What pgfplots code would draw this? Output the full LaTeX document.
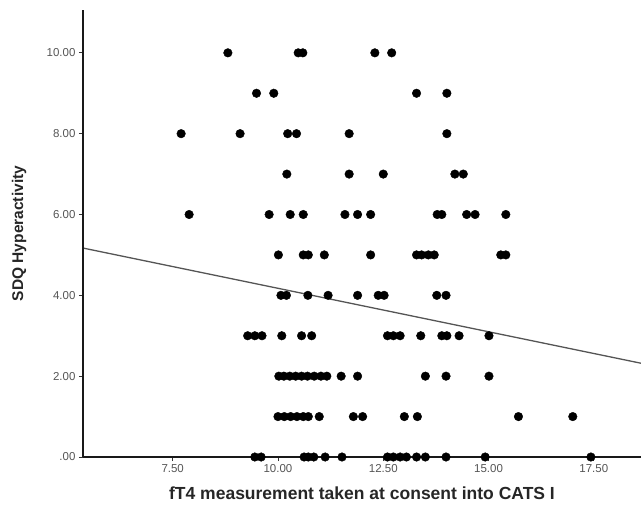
\documentclass[border=0pt]{standalone}
\usepackage{pgfplots}
\pgfplotsset{compat=1.18}
\usepackage{fontspec}
\setmainfont{Liberation Sans}
\usetikzlibrary{calc}
\definecolor{ticktext}{HTML}{555555}
\definecolor{fitline}{HTML}{555555}
\begin{document}
\begin{tikzpicture}
\begin{axis}[
  scale only axis,
  width=558pt, height=447pt,
  xmin=5.37, xmax=18.62, ymin=0, ymax=11.06,
  axis x line*=bottom, axis y line*=left,
  axis line style={-, line width=1.6pt, black!90},
  axis on top=true,
  tick align=outside,
  major tick length=4pt,
  tick style={line width=0.8pt, black!80},
  xtick={7.5,10,12.5,15,17.5},
  xticklabels={7.50,10.00,12.50,15.00,17.50},
  ytick={0,2,4,6,8,10},
  yticklabels={.00,2.00,4.00,6.00,8.00,10.00},
  /pgf/number format/assume math mode=true,
  ticklabel style={font=\fontsize{11.5}{13}\selectfont, text=ticktext},
  xlabel={fT4 measurement taken at consent into CATS I},
  ylabel={SDQ Hyperactivity},
  xlabel style={at={(axis description cs:0.5,-0.0805)}, anchor=center, font=\fontsize{17.5}{20}\selectfont\bfseries, text=black!85},
  ylabel style={at={(axis description cs:-0.1147,0.5)}, anchor=center, font=\fontsize{15.5}{18}\selectfont\bfseries, text=black!85},
]
\addplot[only marks, mark=*, mark size=4.3pt, black] coordinates {
(8.81,10) (10.48,10) (10.59,10) (12.30,10) (12.70,10)
(9.49,9) (9.90,9) (13.29,9) (14.01,9)
(7.70,8) (9.10,8) (10.23,8) (10.44,8) (11.69,8) (14.01,8)
(10.21,7) (11.69,7) (12.50,7) (14.20,7) (14.40,7)
(7.89,6) (9.79,6) (10.29,6) (10.60,6) (11.59,6) (11.89,6) (12.20,6) (13.78,6) (13.89,6) (14.48,6) (14.68,6) (15.41,6)
(10.01,5) (10.60,5) (10.72,5) (11.10,5) (12.20,5) (13.29,5) (13.41,5) (13.57,5) (13.71,5) (15.29,5) (15.41,5)
(10.07,4) (10.20,4) (10.71,4) (11.19,4) (11.89,4) (12.38,4) (12.52,4) (13.77,4) (13.99,4)
(9.28,3) (9.45,3) (9.62,3) (10.09,3) (10.56,3) (10.80,3) (12.60,3) (12.74,3) (12.90,3) (13.39,3) (13.89,3) (14.01,3) (14.30,3) (15.01,3)
(10.02,2) (10.14,2) (10.28,2) (10.42,2) (10.56,2) (10.70,2) (10.86,2) (11.02,2) (11.16,2) (11.50,2) (11.89,2) (13.50,2) (13.99,2) (15.01,2)
(10.00,1) (10.15,1) (10.30,1) (10.45,1) (10.60,1) (10.72,1) (10.98,1) (11.79,1) (12.01,1) (13.00,1) (13.31,1) (15.71,1) (17.00,1)
(9.45,0) (9.60,0) (10.62,0) (10.72,0) (10.85,0) (11.12,0) (11.52,0) (12.60,0) (12.74,0) (12.90,0) (13.05,0) (13.29,0) (13.50,0) (13.99,0) (14.92,0) (17.43,0)
};
\addplot[fitline, line width=1.3pt] coordinates {(5.37,5.17) (18.62,2.32)};
\end{axis}
\pgfresetboundingbox
\path[use as bounding box] ($(current axis.south west)+(-83pt,-51pt)$) rectangle ($(current axis.north east)+(0pt,10pt)$);
\end{tikzpicture}
\end{document}
